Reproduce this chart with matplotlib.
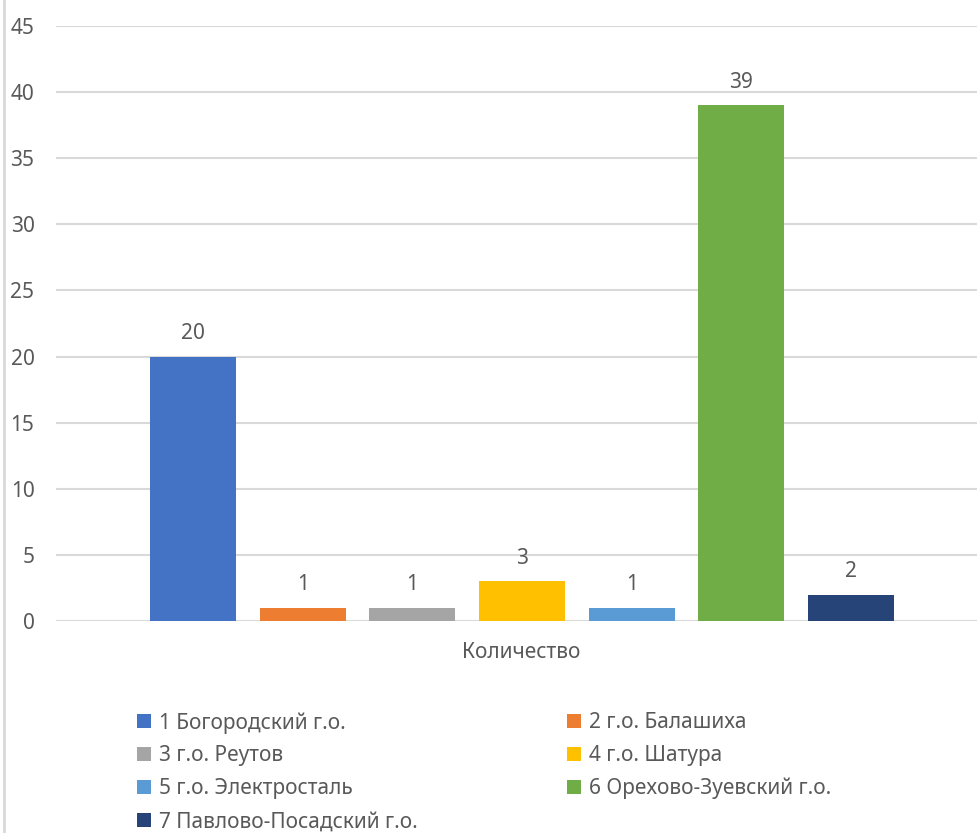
import numpy as np
import matplotlib
matplotlib.use("Agg")
import matplotlib.pyplot as plt
from matplotlib.patches import Patch
from matplotlib.lines import Line2D

# data
labels = ["1 Богородский г.о.", "2 г.о. Балашиха", "3 г.о. Реутов", "4 г.о. Шатура",
          "5 г.о. Электросталь", "6 Орехово-Зуевский г.о.", "7 Павлово-Посадский г.о."]
values = [20, 1, 1, 3, 1, 39, 2]
colors = ["#4472C4", "#ED7D31", "#A5A5A5", "#FFC000", "#5B9BD5", "#70AD47", "#264478"]
category = "Количество"
yticks = [0, 5, 10, 15, 20, 25, 30, 35, 40, 45]

plt.rcParams['font.family'] = ['Noto Sans', 'DejaVu Sans']
text_color = '#595959'
grid_color = '#D9D9D9'
fs = 15

W, H = 978, 833
fig = plt.figure(figsize=(W / 100, H / 100), dpi=100)
fig.patch.set_facecolor('white')

# plot area in pixel terms
left_px, right_px, top_px, bottom_px = 56, 978, 26, 621
ax = fig.add_axes([left_px / W, (H - bottom_px) / H, (right_px - left_px) / W, (bottom_px - top_px) / H])

x = np.arange(len(values))
ax.bar(x, values, width=0.784, color=colors, zorder=3)
for xi, v in zip(x, values):
    ax.text(xi, v + 0.95, str(v), ha='center', va='bottom', fontsize=fs, color=text_color)

ax.set_xlim(-1.249, 7.156)
ax.set_ylim(0, 45)
ax.set_yticks(yticks)
ax.yaxis.grid(True, color=grid_color, linewidth=1.5, zorder=0)
ax.set_xticks([])
for s in ax.spines.values():
    s.set_visible(False)
ax.tick_params(axis='y', length=0, pad=15.5, labelsize=fs, labelcolor=text_color)

fig.text(521 / W, 1 - 653 / H, category, ha='center', va='center', fontsize=fs, color=text_color)

# left border line
fig.add_artist(Line2D([4 / W, 4 / W], [0, 1], color=grid_color, linewidth=2))

handles = [Patch(facecolor=c, edgecolor='none') for c in colors]
leg_kw = dict(loc='upper left', frameon=False, fontsize=fs, labelcolor=text_color,
              handlelength=0.65, handleheight=0.65, handletextpad=0.4, labelspacing=0.57,
              borderpad=0, borderaxespad=0)
leg1 = fig.legend(handles[0::2], labels[0::2], bbox_to_anchor=(137 / W, 1 - 712 / H), **leg_kw)
leg2 = fig.legend(handles[1::2], labels[1::2], bbox_to_anchor=(567 / W, 1 - 712 / H), **leg_kw)

fig.savefig("out.png", dpi=100)
